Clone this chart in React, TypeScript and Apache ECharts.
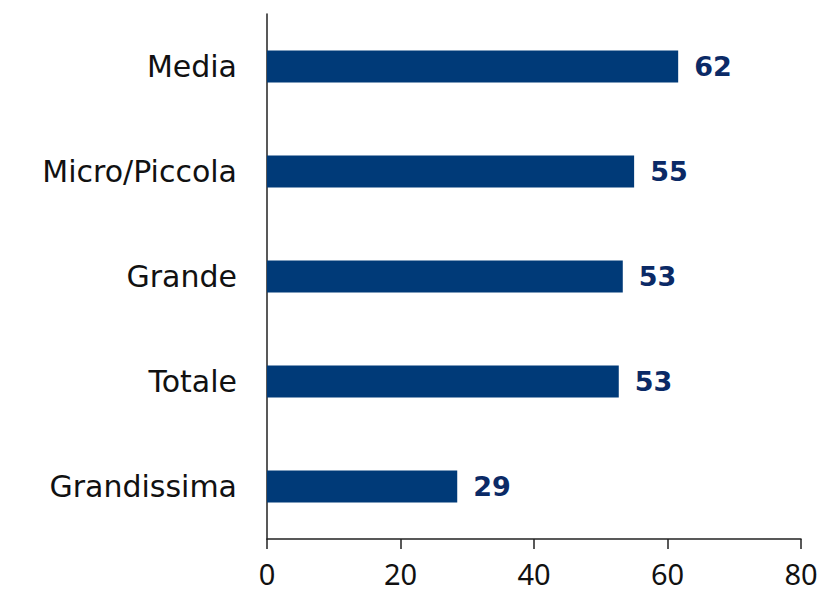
import React, { useEffect, useRef } from "react";
import * as echarts from "echarts";

const categories = ["Media", "Micro/Piccola", "Grande", "Totale", "Grandissima"];
const values = [61.6, 55.0, 53.3, 52.7, 28.5];
const xTicks = [0, 20, 40, 60, 80];

export default function App() {
  const ref = useRef<HTMLDivElement>(null);
  useEffect(() => {
    if (!ref.current) return;
    const chart = echarts.init(ref.current, null, { renderer: "svg" });
    const cats = [...categories].reverse();
    const vals = [...values].reverse();
    chart.setOption({
      animation: false,
      grid: { left: 267, right: 24, top: 14, bottom: 54, containLabel: false },
      xAxis: {
        type: "value",
        min: xTicks[0],
        max: xTicks[xTicks.length - 1],
        interval: 20,
        splitLine: { show: false },
        axisLine: { show: true, lineStyle: { color: "#222", width: 1.5 } },
        axisTick: { show: true, length: 10, lineStyle: { color: "#222", width: 1.5 } },
        axisLabel: { color: "#111", fontSize: 29, lineHeight: 29, margin: 20, fontFamily: "Noto Sans" },
      },
      yAxis: {
        type: "category",
        data: cats,
        axisLine: { show: true, lineStyle: { color: "#222", width: 1.5 } },
        axisTick: { show: false },
        axisLabel: { color: "#111", fontSize: 30, margin: 30, fontFamily: "DejaVu Sans" },
      },
      series: [
        {
          type: "bar",
          data: vals,
          barWidth: 32,
          itemStyle: { color: "#003A78" },
          label: {
            show: true,
            position: "right",
            distance: 16,
            color: "#0B2A66",
            fontSize: 27,
            fontWeight: "bold",
            fontFamily: "DejaVu Sans",
            formatter: (p: any) => String(Math.round(p.value)),
          },
        },
      ],
    });
    return () => chart.dispose();
  }, []);
  return <div ref={ref} style={{ width: 825, height: 593, position: "absolute", left: 0, top: 0 }} />;
}
